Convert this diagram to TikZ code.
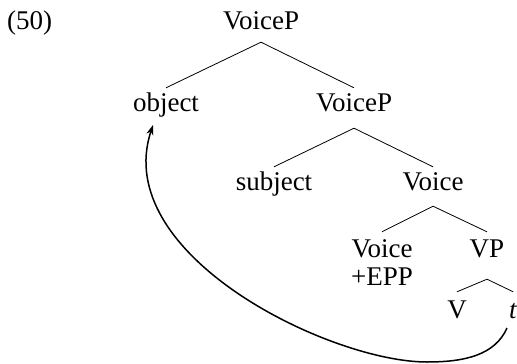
\documentclass[tikz,border=0pt]{standalone}
\usepackage{fontspec}
\setmainfont{Liberation Serif}
\usetikzlibrary{arrows.meta,calc}
\begin{document}
\begin{tikzpicture}[x=1pt,y=-1pt,
  lbl/.style={font=\fontsize{27}{32}\selectfont, inner sep=0pt, text height=18pt, text depth=0pt, anchor=base},
  branch/.style={line width=0.8pt},
  move/.style={line width=1.5pt, -{Stealth[length=10pt,width=7pt,inset=3pt]}}]
\useasboundingbox (0,0) rectangle (517,364);
\node[lbl, anchor=base west] (ex) at (7,29) {(50)};
\node[lbl] (top) at (261,29) {VoiceP};
\node[lbl] (obj) at (166,111) {object};
\node[lbl] (vp2) at (354,111) {VoiceP};
\node[lbl] (subj) at (274,190) {subject};
\node[lbl] (vbar) at (433,190) {Voice};
\node[lbl] (voice) at (382,257) {Voice};
\node[lbl] (vp) at (487,257) {VP};
\node[lbl] (epp) at (382,285) {+EPP};
\node[lbl] (v) at (457,318) {V};
\node[lbl, anchor=base west] (t) at (509,318) {\textit{t}};
\draw[branch] ([yshift=-13pt]top.south) -- ([yshift=5pt]obj.north);
\draw[branch] ([yshift=-13pt]top.south) -- ([yshift=5pt]vp2.north);
\draw[branch] ([yshift=-17pt]vp2.south) -- ([yshift=5pt]subj.north);
\draw[branch] ([yshift=-17pt]vp2.south) -- ([yshift=5pt]vbar.north);
\draw[branch] ([yshift=-16pt]vbar.south) -- ([yshift=7pt]voice.north);
\draw[branch] ([yshift=-16pt]vbar.south) -- ([yshift=7pt]vp.north);
\draw[branch] ([yshift=-22pt]vp.south) -- ([yshift=8pt]v.north);
\draw[branch] ([yshift=-22pt]vp.south) -- ([yshift=8pt]t.north);
\draw[move] ($(t.base west)+(-2,10)$) .. controls (495,355) and (465,362) .. (427,362)
  .. controls (330,362) and (110,255) .. ($(obj.base)+(-13,14)$);
\end{tikzpicture}
\end{document}
